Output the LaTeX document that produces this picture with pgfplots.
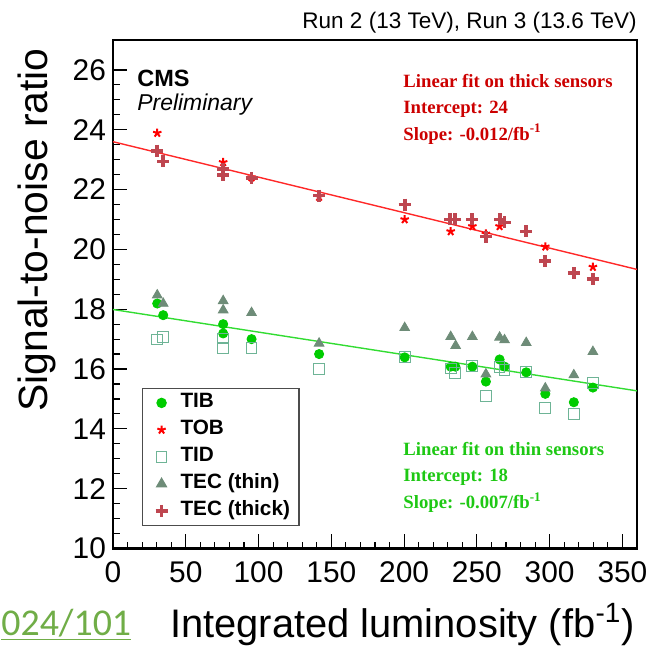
\documentclass[border=0pt]{standalone}
\usepackage{fontspec}
\setmainfont{Liberation Sans}
\newfontfamily\serifb{Liberation Serif}
\newfontfamily\carl{Carlito}
\usepackage{pgfplots}
\pgfplotsset{compat=1.18}
\usetikzlibrary{plotmarks}
\definecolor{tib}{RGB}{0,204,0}
\definecolor{tob}{RGB}{255,0,0}
\definecolor{tid}{RGB}{110,180,150}
\definecolor{tecthin}{RGB}{110,140,120}
\definecolor{tecthick}{RGB}{190,70,80}
\definecolor{fitred}{RGB}{255,40,40}
\definecolor{fitgreen}{RGB}{50,220,50}
\definecolor{txtred}{RGB}{204,0,0}
\definecolor{txtgreen}{RGB}{30,200,20}
\definecolor{linkc}{RGB}{112,173,71}
\pgfplotsset{
  mylegimg/.style={legend image code/.code={\draw[draw=none,mark repeat=2,mark phase=2,##1] plot coordinates {(0bp,0bp) (6.5bp,0bp) (11.5bp,0bp)};}},
  pts/.style={draw=none, mylegimg}
}
\begin{document}
\begin{tikzpicture}[x=1bp,y=1bp]
\useasboundingbox (-56.5,-50.25) rectangle (268.5,274.25);
\begin{axis}[at={(0,0)}, anchor=south west, scale only axis,
  width=262bp, height=254.25bp,
  xmin=0, xmax=360, ymin=10, ymax=27,
  xtick={0,50,...,350}, ytick={10,12,...,26},
  minor x tick num=4, minor y tick num=3,
  tick align=inside, xtick pos=lower, ytick pos=left,
  major tick length=7bp, minor tick length=3.5bp,
  axis line style={line width=1.2bp},
  every tick/.style={black, line width=0.6bp},
  tick label style={font=\fontsize{15}{18}\selectfont},
  xticklabel style={yshift=-3bp},
  /pgf/number format/assume math mode=true,
  legend cell align=left,
  legend style={at={(rel axis cs:0.0553,0.3166)}, anchor=north west,
    draw=black!70, line width=0.6bp, inner xsep=3bp, inner ysep=1bp,
    font=\bfseries\fontsize{10.4}{12}\selectfont,
    nodes={inner sep=1.5bp, text height=7.3bp, text depth=2.5bp},
    row sep=0.7bp, column sep=3bp},
]
\addplot[fitred, line width=0.7bp, forget plot] coordinates {(0,23.60) (360,19.33)};
\addplot[fitgreen, line width=0.7bp, forget plot] coordinates {(0,17.99) (360,15.27)};
\addplot[pts, mark=*, mark size=2.3bp, mark options={draw=tib, fill=tib}] coordinates {
(30.4,18.19)(34.5,17.80)(75.7,17.50)(75.7,17.19)(95.2,17.00)(141.6,16.50)(200.4,16.39)(232,16.08)(235.2,16.08)(246.9,16.08)(256.2,15.58)(265.6,16.32)(269,16.08)(283.9,15.89)(297,15.17)(316.6,14.89)(329.7,15.38)};
\addlegendentry{TIB}
\addplot[pts, mark=star, mark size=2.2bp, mark options={draw=tob, line width=1bp}] coordinates {
(30.4,23.89)(75.7,22.91)(95.2,22.40)(141.6,21.75)(200.4,21.00)(232,20.60)(246.9,20.77)(256.2,20.52)(265.6,20.77)(297,20.09)(329.7,19.41)};
\addlegendentry{TOB}
\addplot[pts, mark=square, mark size=2.7bp, mark options={draw=tid, line width=0.5bp}] coordinates {
(30.4,16.99)(34.5,17.08)(75.7,17.02)(75.7,16.69)(95.2,16.69)(141.6,15.99)(200.4,16.39)(232,16.02)(235.2,15.88)(246.9,16.10)(256.2,15.10)(265.6,16.08)(269,15.96)(283.9,15.91)(297,14.69)(316.6,14.50)(329.7,15.54)};
\addlegendentry{TID}
\addplot[pts, mark=triangle*, mark size=2.8bp, mark options={draw=tecthin, fill=tecthin}] coordinates {
(30.4,18.47)(34.5,18.19)(75.7,18.28)(75.7,17.97)(95.2,17.88)(141.6,16.86)(200.4,17.38)(232,17.08)(235.4,16.78)(246.9,17.08)(256.2,15.83)(265.6,17.06)(269,16.97)(283.9,16.88)(297,15.36)(316.6,15.80)(329.7,16.58)};
\addlegendentry{TEC (thin)}
\addplot[pts, mark=+, mark size=3bp, mark options={draw=tecthick, line width=1.9bp}] coordinates {
(30.4,23.30)(34.5,22.94)(75.7,22.69)(75.7,22.50)(95.2,22.39)(141.6,21.80)(200.4,21.50)(231.8,21.00)(235.2,21.00)(246.9,21.00)(256.2,20.43)(266,21.00)(269,20.90)(283.9,20.60)(297,19.60)(316.6,19.21)(329.7,19.01)};
\addlegendentry{TEC (thick)}
\end{axis}
\node[anchor=base east, font=\fontsize{11.3}{14}\selectfont, inner sep=0] at (262,260.25) {Run 2 (13 TeV), Run 3 (13.6 TeV)};
\node[anchor=base west, font=\bfseries\fontsize{11.8}{14}\selectfont, inner sep=0] at (12,231) {CMS};
\node[anchor=base west, font=\itshape\fontsize{11.5}{14}\selectfont, inner sep=0] at (12,219) {Preliminary};
\begin{scope}[every node/.style={anchor=base west, inner sep=0, font=\serifb\bfseries\fontsize{9.4}{11}\selectfont}]
\node[text=txtred] at (145,230.5) {Linear fit on thick sensors};
\node[text=txtred] at (145,217.5) {Intercept: 24};
\node[text=txtred] at (145,204) {Slope: -0.012/fb\textsuperscript{-1}};
\node[text=txtgreen] at (145,46.5) {Linear fit on thin sensors};
\node[text=txtgreen] at (145,33.3) {Intercept: 18};
\node[text=txtgreen] at (145,19.8) {Slope: -0.007/fb\textsuperscript{-1}};
\end{scope}
\node[anchor=base east, font=\fontsize{20}{24}\selectfont, inner sep=0] at (261,-44.5) {Integrated luminosity (fb\textsuperscript{-1})};
\node[rotate=90, anchor=base east, font=\fontsize{20.5}{24}\selectfont, inner sep=0] at (-32.5,250.25) {Signal-to-noise ratio};
\node[anchor=base west, font=\carl\fontsize{19}{22}\selectfont, text=linkc, inner sep=0] at (-56,-43.25) {\underline{024/101}};
\end{tikzpicture}
\end{document}
